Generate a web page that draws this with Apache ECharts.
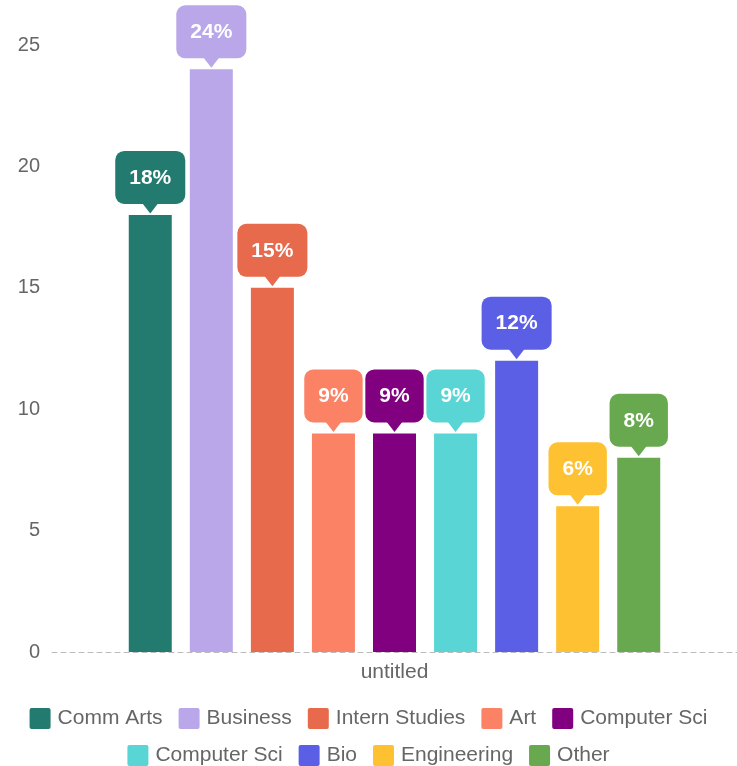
<!DOCTYPE html>
<html>
<head>
<meta charset="utf-8">
<style>
  html, body { margin: 0; padding: 0; background: #fff; }
  #chart { width: 737px; height: 766px; }
</style>
<script src="https://cdn.jsdelivr.net/npm/echarts@6/dist/echarts.min.js"></script>
</head>
<body>
<div id="chart"></div>
<script>
// Enrollment share by program (percent)
const categories = ['untitled'];
const programs = ['Comm Arts', 'Business', 'Intern Studies', 'Art', 'Computer Sci',
                  'Computer Sci', 'Bio', 'Engineering', 'Other'];
const shares = [18, 24, 15, 9, 9, 9, 12, 6, 8];
const palette = ['#237b6f', '#b9a7ea', '#e66a4b', '#fc8265', '#800080',
                 '#58d5d4', '#5b5fe6', '#fec131', '#68a84f'];
const yTicks = { min: 0, max: 25, interval: 5 };

const FONT = '"Liberation Sans", Arial, Helvetica, sans-serif';

// Series names must be unique for the legend; repeated names get a
// trailing non-breaking space that the legend formatter trims off.
const seen = {};
const seriesKeys = programs.map(function (n) {
  let key = n;
  while (seen[key]) key += '\u00a0';
  seen[key] = true;
  return key;
});

const series = seriesKeys.map(function (key, i) {
  return {
    name: key,
    type: 'bar',
    data: [shares[i]],
    barWidth: 43,
    barGap: '42%',
    itemStyle: { color: palette[i] },
    label: {
      show: true,
      position: 'top',
      distance: 11,
      formatter: '{c}%',
      color: '#fff',
      fontFamily: FONT,
      fontWeight: 'bold',
      fontSize: 21,
      lineHeight: 22,
      backgroundColor: palette[i],
      borderRadius: 9,
      padding: [16, 14, 15, 14]
    },
    // small downward pointer under each value bubble
    markPoint: {
      silent: true,
      symbol: 'triangle',
      symbolRotate: 180,
      symbolSize: [17, 11],
      symbolOffset: [0, -7],
      itemStyle: { color: palette[i] },
      label: { show: false },
      data: [{ type: 'max' }]
    }
  };
});

const legendBase = {
  left: 'center',
  orient: 'horizontal',
  itemWidth: 21,
  itemHeight: 21,
  itemGap: 16,
  icon: 'path://M2,0H19Q21,0,21,2V19Q21,21,19,21H2Q0,21,0,19V2Q0,0,2,0Z',
  formatter: function (n) { return n.trim(); },
  textStyle: { color: '#666', fontSize: 21, fontFamily: FONT, padding: [0, 0, 0, 2] }
};

const chart = echarts.init(document.getElementById('chart'));
chart.setOption({
  animation: false,
  textStyle: { fontFamily: FONT },
  grid: { left: 52, right: 0, top: 45, bottom: 114, containLabel: false },
  legend: [
    Object.assign({}, legendBase, { top: 703, data: seriesKeys.slice(0, 5) }),
    Object.assign({}, legendBase, { top: 740, data: seriesKeys.slice(5) })
  ],
  xAxis: {
    type: 'category',
    data: categories,
    axisLine: { show: true, lineStyle: { color: '#bbb', type: [5, 4], width: 1 } },
    axisTick: { show: false },
    axisLabel: { color: '#666', fontSize: 21, fontFamily: FONT, margin: 10 }
  },
  yAxis: {
    type: 'value',
    min: yTicks.min,
    max: yTicks.max,
    interval: yTicks.interval,
    axisLine: { show: false },
    axisTick: { show: false },
    splitLine: { show: false },
    axisLabel: { color: '#666', fontSize: 20, fontFamily: FONT, margin: 12 }
  },
  series: series
});
</script>
</body>
</html>
